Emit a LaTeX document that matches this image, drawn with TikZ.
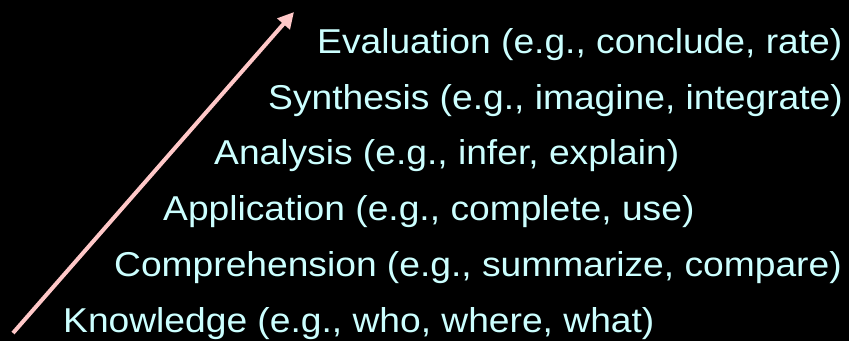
\documentclass[tikz,border=0pt]{standalone}
\usepackage{fontspec}
\setmainfont[FakeStretch=1.078]{Liberation Sans}
\usetikzlibrary{arrows.meta}
\definecolor{txtc}{HTML}{CCFFFF}
\definecolor{arrc}{HTML}{FFC8C8}
\tikzset{lvl/.style={anchor=base west, inner sep=0pt, text=txtc, font=\fontsize{34.5pt}{36pt}\selectfont}}
\begin{document}
\begin{tikzpicture}[x=1pt,y=-1pt]
\fill[black] (0,0) rectangle (849,341);
\useasboundingbox (0,0) rectangle (849,341);
\node[lvl] (eval) at (317,53) {Evaluation (e.g., conclude, rate)};
\node[lvl] (syn) at (268,109) {Synthesis (e.g., imagine, integrate)};
\node[lvl] (ana) at (214,164.5) {Analysis (e.g., infer, explain)};
\node[lvl] (app) at (163,220.5) {Application (e.g., complete, use)};
\node[lvl] (comp) at (114,276) {Comprehension (e.g., summarize, compare)};
\node[lvl] (know) at (63,332) {Knowledge (e.g., who, where, what)};
\coordinate (s) at (13,333);
\coordinate (e) at (294,12);
\draw[arrc, line width=4pt, -{Triangle[length=16pt,width=16pt]}] (s) -- (e);
\end{tikzpicture}
\end{document}
